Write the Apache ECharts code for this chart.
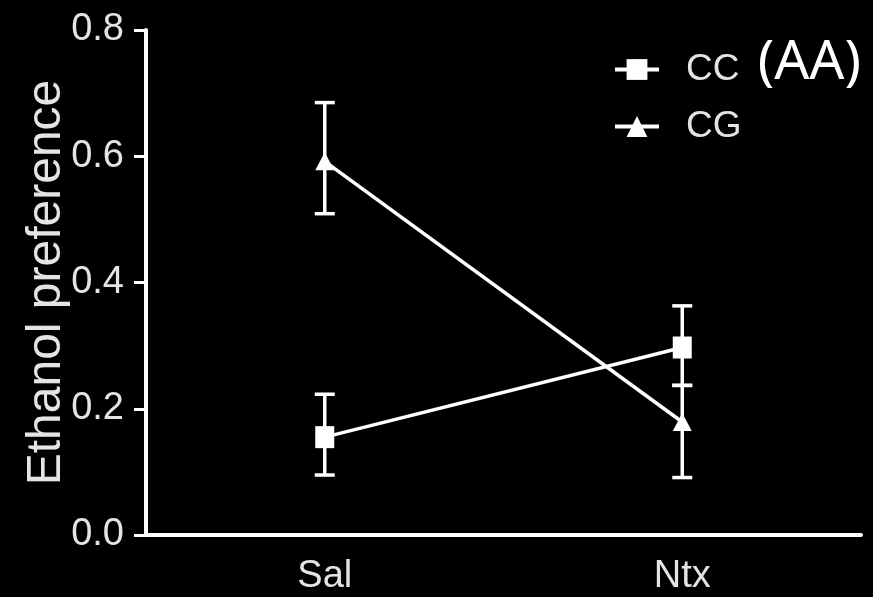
<!DOCTYPE html>
<html><head><meta charset="utf-8">
<script src="https://cdn.jsdelivr.net/npm/echarts@6/dist/echarts.min.js"></script>
<style>html,body{margin:0;background:#000}#chart{width:873px;height:597px}</style>
</head><body><div id="chart"></div>
<script>
// Ethanol preference by treatment (mean with SEM whiskers) for two genotype groups
const categories = ['Sal', 'Ntx'];
const ccMean = [0.155, 0.297];
const ccHigh = [0.223, 0.363];
const ccLow = [0.095, 0.237];
const cgMean = [0.592, 0.179];
const cgHigh = [0.685, 0.237];
const cgLow = [0.509, 0.091];
const yMin = 0, yMax = 0.8, yStep = 0.2;

const axisFont = '"Liberation Sans", Arial, sans-serif';
const labelColor = '#e4e4e4';

// vertical whisker with caps from low to high, placed through the axis scales
function errorSeries(name, lows, highs) {
  return {
    type: 'custom', name: name + ' SEM', z: 2, silent: true,
    data: lows.map((lo, i) => [i, lo, highs[i]]),
    renderItem(params, api) {
      const x = api.value(0);
      const lo = api.coord([x, api.value(1)]);
      const hi = api.coord([x, api.value(2)]);
      const half = 10;
      const style = { stroke: '#fff', lineWidth: 3.5 };
      return { type: 'group', children: [
        { type: 'line', shape: { x1: lo[0], y1: lo[1], x2: hi[0], y2: hi[1] }, style },
        { type: 'line', shape: { x1: hi[0] - half, y1: hi[1], x2: hi[0] + half, y2: hi[1] }, style },
        { type: 'line', shape: { x1: lo[0] - half, y1: lo[1], x2: lo[0] + half, y2: lo[1] }, style }
      ]};
    }
  };
}

function meanSeries(name, means, symbol, size) {
  return {
    type: 'line', name, data: means, z: 5,
    symbol, symbolSize: size, showAllSymbol: true,
    lineStyle: { color: '#fff', width: 3.5 },
    itemStyle: { color: '#fff', borderWidth: 0 },
    emphasis: { disabled: true }
  };
}

const chart = echarts.init(document.getElementById('chart'));
chart.setOption({
  backgroundColor: '#000',
  animation: false,
  title: {
    text: '(AA)', right: 7, top: 31,
    textStyle: { color: '#fff', fontFamily: '"Noto Sans", sans-serif', fontSize: 55, fontWeight: 'normal' }
  },
  legend: {
    data: ['CC', 'CG'], orient: 'vertical', left: 608, top: 46,
    itemWidth: 44, itemHeight: 26, itemGap: 20,
    lineStyle: { width: 4, color: '#fff' },
    textStyle: { color: labelColor, fontFamily: axisFont, fontSize: 37, padding: [0, 0, 0, 22] }
  },
  grid: { left: 146, right: 12, top: 30, bottom: 62, containLabel: false },
  xAxis: {
    type: 'category', data: categories, boundaryGap: true,
    axisLine: { lineStyle: { color: '#fff', width: 4 } },
    axisTick: { alignWithLabel: true, length: 14, lineStyle: { color: '#fff', width: 3 } },
    axisLabel: { color: labelColor, fontFamily: axisFont, fontSize: 38, margin: 23 },
    splitLine: { show: false }
  },
  yAxis: {
    type: 'value', min: yMin, max: yMax, interval: yStep,
    name: 'Ethanol preference', nameLocation: 'middle', nameGap: 75, nameMoveOverlap: false,
    nameTextStyle: { color: labelColor, fontFamily: axisFont, fontSize: 48 },
    axisLine: { show: true, lineStyle: { color: '#fff', width: 4 } },
    axisTick: { show: true, length: 12, lineStyle: { color: '#fff', width: 3 } },
    axisLabel: { color: labelColor, fontFamily: axisFont, fontSize: 38, margin: 22, formatter: v => v.toFixed(1) },
    splitLine: { show: false }
  },
  series: [
    errorSeries('CC', ccLow, ccHigh),
    errorSeries('CG', cgLow, cgHigh),
    meanSeries('CC', ccMean, 'rect', [19, 22]),
    meanSeries('CG', cgMean, 'triangle', [19, 18])
  ]
});
</script></body></html>
